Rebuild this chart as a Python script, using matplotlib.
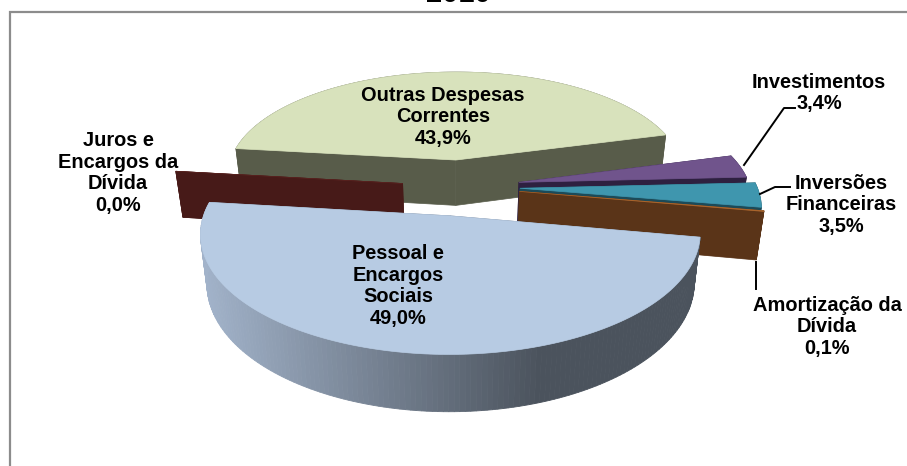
import numpy as np
import matplotlib
matplotlib.use("Agg")
import matplotlib.pyplot as plt
from matplotlib.colors import to_rgb
from matplotlib.patches import Polygon

W, H = 907, 466

categories = ["Outras Despesas\nCorrentes", "Investimentos", "Inversões\nFinanceiras",
              "Amortização da\nDívida", "Juros e\nEncargos da\nDívida", "Pessoal e\nEncargos\nSociais"]
shares = [43.9, 3.4, 3.5, 0.1, 0.0, 49.0]
share_labels = ["43,9%", "3,4%", "3,5%", "0,1%", "0,0%", "49,0%"]
title = "2010"

top_colors = ["#d8e2bc", "#70548c", "#3f96ae", "#a8642c", "#5c2320", "#b7cbe3"]
wall_colors = ["#585c4a", "#2e2040", "#1c4a58", "#5a3418", "#471a18", "#6a7788"]
explode = [60, 60, 60, 60, 58, 62]
radius = [233, 231, 237, 239, 234, 238]
label_xy = [(443, 117), (819, 93), (841, 205), (827, 327), (118, 173), (398, 286)]

START = 173.3
CX, CY = 460.0, 186.6
TILT, PERSP = 0.46, 0.0006
DEPTH, TAPER = 47.0, 0.975


def project(x, y, z=0.0):
    s = 1.0 / (1.0 + PERSP * y)
    px = CX + x * s
    py = CY - TILT * y * s
    if z:
        px = CX + (px - CX) * TAPER
        py = py + z * s
    return np.column_stack([px, py])


def slice_geometry(i, theta0, theta1):
    mid = np.radians((theta0 + theta1) / 2)
    ox, oy = explode[i] * np.cos(mid), explode[i] * np.sin(mid)
    th = np.radians(np.linspace(theta0, theta1, 160))
    return ox, oy, ox + radius[i] * np.cos(th), oy + radius[i] * np.sin(th)


fig = plt.figure(figsize=(W / 100, H / 100), dpi=100)
ax = fig.add_axes([0, 0, 1, 1])
ax.set_xlim(0, W)
ax.set_ylim(H, 0)
ax.axis("off")

# chart frame: only its top and left edges fall inside the figure
ax.plot([9.5, 9.5, W], [H, 12, 12], color="#8c8c8c", lw=1.6, zorder=0, solid_joinstyle="miter")

# Slices run clockwise round the circle in the order below
total = sum(shares)
bounds = {}
angle = START
for i in [0, 1, 2, 3, 5, 4]:
    span = shares[i] * 360.0 / total
    bounds[i] = (angle, angle - span)
    angle -= span

z = 1
for i in [0, 1, 2, 4, 3, 5]:
    a0, a1 = bounds[i]
    ox, oy, xs, ys = slice_geometry(i, a0, a1)
    centre_t = project(np.array([ox]), np.array([oy]))
    centre_b = project(np.array([ox]), np.array([oy]), DEPTH)
    top = project(xs, ys)
    bot = project(xs, ys, DEPTH)

    # radial cut faces
    for k in (0, -1):
        quad = np.vstack([centre_t, top[k], bot[k], centre_b])
        ax.add_patch(Polygon(quad, fc=wall_colors[i], ec=wall_colors[i], lw=0.5, zorder=z))
    z += 1

    # rim, shaded from left to right on the large slice
    if i == 5:
        light, dark = np.array(to_rgb("#a2b3ca")), np.array(to_rgb("#4b535d"))
        lo, hi = top[:, 0].min(), top[:, 0].max()
        for j in range(len(top) - 1):
            t = np.clip(((top[j, 0] + top[j + 1, 0]) / 2 - lo) / (hi - lo) / 0.68, 0, 1)
            c = light + (dark - light) * t
            quad = [top[j], top[j + 1], bot[j + 1], bot[j]]
            ax.add_patch(Polygon(quad, fc=c, ec=c, lw=0.6, zorder=z))
    else:
        rim = np.vstack([top, bot[::-1]])
        ax.add_patch(Polygon(rim, fc=wall_colors[i], ec=wall_colors[i], lw=0.5, zorder=z))
    z += 1

    face = np.vstack([centre_t, top])
    ax.add_patch(Polygon(face, fc=top_colors[i], ec=top_colors[i], lw=0.5, zorder=z))
    z += 1

# leader lines
ax.plot([795, 784, 744], [108, 108, 165], color="black", lw=1.4, zorder=z)
ax.plot([790, 775, 760], [187, 187, 194], color="black", lw=1.4, zorder=z)
ax.plot([756, 756], [262, 289], color="black", lw=1.4, zorder=z)

font = dict(family="Liberation Sans", fontweight="bold", fontsize=14.4, color="black",
            ha="center", va="center", linespacing=1.17, zorder=z + 1)
for name, pct, (lx, ly) in zip(categories, share_labels, label_xy):
    ax.text(lx, ly, f"{name}\n{pct}", **font)

ax.text(458, 2.5, title, family="Liberation Sans", fontweight="bold", fontsize=21,
        ha="center", va="baseline", zorder=z + 1)

fig.savefig("out.png", dpi=100)
